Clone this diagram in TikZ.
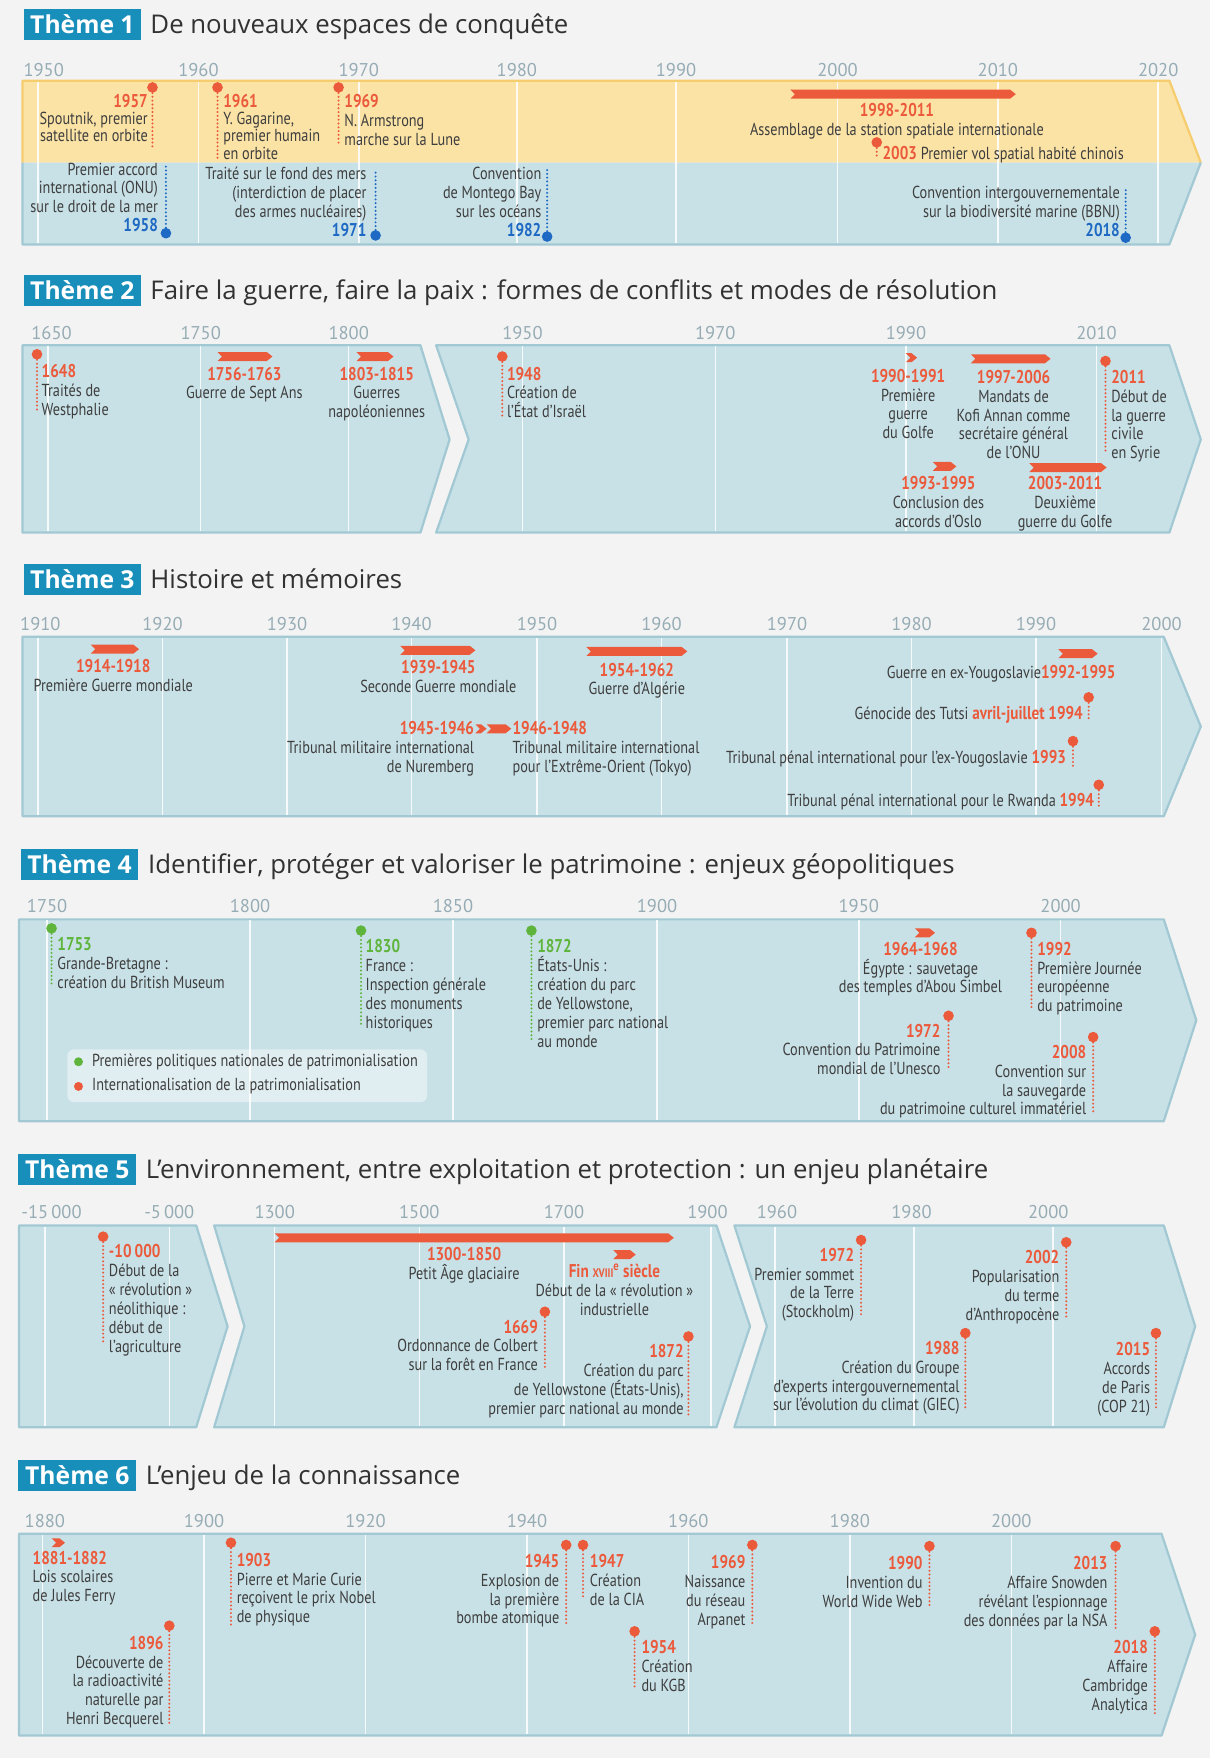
\documentclass[tikz,border=0pt]{standalone}
\usepackage{fontspec}
\setmainfont{PT Sans}[FakeStretch=0.82]
\newfontfamily\titlefont{Open Sans}
\newfontfamily\yearfont{PT Sans}

\definecolor{pagebg}{RGB}{243,243,243}
\definecolor{bandc}{RGB}{200,225,231}
\definecolor{bandedge}{RGB}{162,201,211}
\definecolor{yelc}{RGB}{251,227,166}
\definecolor{yeledge}{RGB}{246,205,110}
\definecolor{badgec}{RGB}{24,142,186}
\definecolor{titlec}{RGB}{50,50,50}
\definecolor{txtc}{RGB}{62,62,62}
\definecolor{redc}{RGB}{236,90,60}
\definecolor{bluec}{RGB}{30,105,195}
\definecolor{greenc}{RGB}{95,180,60}
\definecolor{yrc}{RGB}{150,172,180}

\newcommand{\evfont}{\fontsize{15.5}{16.8}\selectfont}
\newcommand{\dr}[1]{{\fontsize{16.5}{16.8}\selectfont\bfseries\color{redc}#1}}
\newcommand{\db}[1]{{\fontsize{16.5}{16.8}\selectfont\bfseries\color{bluec}#1}}
\newcommand{\dg}[1]{{\fontsize{16.5}{16.8}\selectfont\bfseries\color{greenc}#1}}

\begin{document}
\begin{tikzpicture}
    [x=1pt,y=-1pt,
     every node/.style={inner sep=0pt, font=\evfont, text=txtc},
     lt/.style={anchor=north west, align=left},
     rt/.style={anchor=north east, align=right},
     ct/.style={anchor=north, align=center},
     tight/.style={font=\fontsize{15.5}{15.3}\selectfont},
     yr/.style={anchor=base, font=\yearfont\fontsize{16.5}{16.5}\selectfont, text=yrc},
     badge/.style={fill=badgec, text=white, minimum width=105pt, minimum height=28pt,
       font=\titlefont\bfseries\fontsize{22}{22}\selectfont},
     ttl/.style={anchor=base west, text=titlec, font=\titlefont\fontsize{23}{23}\selectfont},
     band/.style={fill=bandc, draw=bandedge, line width=2pt, line join=round},
     gline/.style={white, line width=1.4pt, opacity=0.85},
     rangebar/.style={fill=redc},
     dotr/.style={circle, fill=redc, minimum size=9.5pt},
     dotb/.style={circle, fill=bluec, minimum size=9.5pt},
     dotg/.style={circle, fill=greenc, minimum size=9.5pt},
     pinr/.style={draw=redc, line width=2pt, line cap=round, dash pattern=on 0pt off 3.4pt},
     pinb/.style={draw=bluec, line width=2pt, line cap=round, dash pattern=on 0pt off 3.4pt},
     ping/.style={draw=greenc, line width=2pt, line cap=round, dash pattern=on 0pt off 3.4pt}]

    \useasboundingbox (0,0) rectangle (1079,1568);
    \fill[pagebg] (0,0) rectangle (1079,1568);

    % headings
    \node[badge] (b1) at (73.5,22) {Thème 1};
    \node[ttl] (h1) at (134,30) {De nouveaux espaces de conquête};
    \node[badge] (b2) at (73.5,259) {Thème 2};
    \node[ttl] (h2) at (134,267) {Faire la guerre, faire la paix : formes de conflits et modes de résolution};
    \node[badge] (b3) at (73.5,517) {Thème 3};
    \node[ttl] (h3) at (134,525) {Histoire et mémoires};
    \node[badge] (b4) at (71,771) {Thème 4};
    \node[ttl] (h4) at (132,779) {Identifier, protéger et valoriser le patrimoine : enjeux géopolitiques};
    \node[badge] (b5) at (69,1043) {Thème 5};
    \node[ttl] (h5) at (130,1051) {L’environnement, entre exploitation et protection : un enjeu planétaire};
    \node[badge] (b6) at (69,1316) {Thème 6};
    \node[ttl] (h6) at (130,1324) {L’enjeu de la connaissance};

    % bands
    \fill[yelc] (20,72) -- (1043,72) -- (1071,145) -- (20,145) -- cycle;
    \fill[bandc] (20,145) -- (1071,145) -- (1043,218) -- (20,218) -- cycle;
    \draw[yeledge, line width=2pt, line join=round] (20,145) -- (20,72) -- (1043,72) -- (1071,145);
    \draw[bandedge, line width=2pt, line join=round] (1071,145) -- (1043,218) -- (20,218) -- (20,145);
    \path[band] (20,308) -- (375,308) -- (401,392) -- (375,475) -- (20,475) -- cycle;
    \path[band] (389,308) -- (1043,308) -- (1071,392) -- (1043,475) -- (389,475) -- (418,392) -- cycle;
    \path[band] (20,568) -- (1038,568) -- (1071,648) -- (1038,728) -- (20,728) -- cycle;
    \path[band] (17,820) -- (1038,820) -- (1067,910) -- (1038,1000) -- (17,1000) -- cycle;
    \path[band] (17,1093) -- (175,1093) -- (203,1183) -- (175,1273) -- (17,1273) -- cycle;
    \path[band] (191,1093) -- (639,1093) -- (669,1183) -- (639,1273) -- (191,1273) -- (218,1183) -- cycle;
    \path[band] (655,1093) -- (1038,1093) -- (1066,1183) -- (1038,1273) -- (655,1273) -- (684,1183) -- cycle;
    \path[band] (17,1368) -- (1036,1368) -- (1066,1458) -- (1036,1548) -- (17,1548) -- cycle;

    % grid lines
    \foreach \x in {34,177,320,461,603,747,890,1033} \draw[gline] (\x,73) -- (\x,217);
    \foreach \x in {43,179,311,466,638,808,978} \draw[gline] (\x,309) -- (\x,474);
    \foreach \x in {34,145,256,367,479,590,702,813,924,1036} \draw[gline] (\x,569) -- (\x,727);
    \foreach \x in {42,223,404,586,766,946} \draw[gline] (\x,821) -- (\x,999);
    \foreach \x in {40,151,245,374,503,634,691,815,939} \draw[gline] (\x,1094) -- (\x,1272);
    \foreach \x in {38,182,326,470,614,758,902} \draw[gline] (\x,1369) -- (\x,1547);

    % year labels
    \foreach \x/\t [count=\i] in {39/1950,177/1960,320/1970,461/1980,603/1990,747/2000,890/2010,1033/2020}
      \node[yr] (yA\i) at (\x,68) {\t};
    \foreach \x/\t [count=\i] in {46/1650,179/1750,311/1800,466/1950,638/1970,808/1990,978/2010}
      \node[yr] (yB\i) at (\x,303) {\t};
    \foreach \x/\t [count=\i] in {36/1910,145/1920,256/1930,367/1940,479/1950,590/1960,702/1970,813/1980,924/1990,1036/2000}
      \node[yr] (yC\i) at (\x,562) {\t};
    \foreach \x/\t [count=\i] in {42/1750,223/1800,404/1850,586/1900,766/1950,946/2000}
      \node[yr] (yD\i) at (\x,814) {\t};
    \foreach \x/\t [count=\i] in {46/{-15\,000},151/{-5\,000},245/1300,374/1500,503/1700,631/1900,693/1960,813/1980,935/2000}
      \node[yr] (yE\i) at (\x,1087) {\t};
    \foreach \x/\t [count=\i] in {40/1880,182/1900,326/1920,470/1940,614/1960,758/1980,902/2000}
      \node[yr] (yF\i) at (\x,1362) {\t};

    % range bars
    \foreach \a/\b/\y in {705/906/84, 194/243/318, 318/351/318, 808/818/319, 866/937/320,
      832/853/416, 918/987/417, 81/124/579, 357/424/580, 523/613/581, 944/979/583,
      424/434/650, 434/456/650, 816/834/832, 245/601/1104, 547/567/1119, 46/58/1376}
      \fill[rangebar] (\a,\y-4) -- (\b-5,\y-4) -- (\b,\y) -- (\b-5,\y+4) -- (\a,\y+4) -- (\a+4,\y) -- cycle;

    % legend box
    \fill[white, opacity=0.45, rounded corners=6pt] (60,936) rectangle (381,983);

    % Theme 1
    \node[dotr] (pA1957) at (136,78) {};
    \node[dotr] (pA1961) at (194,78) {};
    \node[dotr] (pA1969) at (302,78) {};
    \node[dotr] (pA2003) at (782,127) {};
    \node[dotb] (pA1958) at (148,208) {};
    \node[dotb] (pA1971) at (335,210) {};
    \node[dotb] (pA1982) at (488,211) {};
    \node[dotb] (pA2018) at (1004,212) {};
    \coordinate (qA1957) at (136,131);
    \coordinate (qA1961) at (194,142);
    \coordinate (qA1969) at (302,128);
    \coordinate (qA2003) at (782,141);
    \coordinate (qA1958) at (148,148);
    \coordinate (qA1971) at (335,151);
    \coordinate (qA1982) at (488,151);
    \coordinate (qA2018) at (1004,168);
    \node[rt, tight] (tA1957) at (132,84) {\dr{1957}\\Spoutnik, premier\\satellite en orbite};
    \node[lt, tight] (tA1961) at (199,84) {\dr{1961}\\Y. Gagarine,\\premier humain\\en orbite};
    \node[lt] (tA1969) at (307,84) {\dr{1969}\\N. Armstrong\\marche sur la Lune};
    \node[ct] (tA1998) at (800,92) {\dr{1998-2011}\\Assemblage de la station spatiale internationale};
    \node[lt] (tA2003) at (787,130) {\dr{2003} Premier vol spatial habité chinois};
    \node[rt] (tA1958) at (141,145) {Premier accord\\international (ONU)\\sur le droit de la mer\\\db{1958}};
    \node[rt] (tA1971) at (327,149) {Traité sur le fond des mers\\(interdiction de placer\\des armes nucléaires)\\\db{1971}};
    \node[rt] (tA1982) at (483,149) {Convention\\de Montego Bay\\sur les océans\\\db{1982}};
    \node[rt] (tA2018) at (999,166) {Convention intergouvernementale\\sur la biodiversité marine (BBNJ)\\\db{2018}};

    % Theme 2
    \node[dotr] (pB1648) at (33,316) {};
    \node[dotr] (pB1948) at (448,318) {};
    \node[dotr] (pB2011) at (986,322) {};
    \coordinate (qB1648) at (33,368);
    \coordinate (qB1948) at (448,372);
    \coordinate (qB2011) at (986,405);
    \node[lt] (tB1648) at (37,325) {\dr{1648}\\Traités de\\Westphalie};
    \node[ct] (tB1756) at (218,327) {\dr{1756-1763}\\Guerre de Sept Ans};
    \node[ct] (tB1803) at (336,327) {\dr{1803-1815}\\Guerres\\napoléoniennes};
    \node[lt] (tB1948) at (452,327) {\dr{1948}\\Création de\\l’État d’Israël};
    \node[ct] (tB1990) at (810,329) {\dr{1990-1991}\\Première\\guerre\\du Golfe};
    \node[ct] (tB1997) at (904,330) {\dr{1997-2006}\\Mandats de\\Kofi Annan comme\\secrétaire général\\de l’ONU};
    \node[lt] (tB2011) at (991,330) {\dr{2011}\\Début de\\la guerre\\civile\\en Syrie};
    \node[ct] (tB1993) at (837,425) {\dr{1993-1995}\\Conclusion des\\accords d’Oslo};
    \node[ct] (tB2003) at (950,425) {\dr{2003-2011}\\Deuxième\\guerre du Golfe};

    % Theme 3
    \node[dotr] (pC1994a) at (971,622) {};
    \node[dotr] (pC1993) at (957,661) {};
    \node[dotr] (pC1994b) at (980,700) {};
    \coordinate (qC1994a) at (971,642);
    \coordinate (qC1993) at (957,683);
    \coordinate (qC1994b) at (980,720);
    \node[ct] (tC1914) at (101,588) {\dr{1914-1918}\\Première Guerre mondiale};
    \node[ct] (tC1939) at (391,589) {\dr{1939-1945}\\Seconde Guerre mondiale};
    \node[ct] (tC1954) at (568,591) {\dr{1954-1962}\\Guerre d’Algérie};
    \node[rt] (tC1945) at (423,643) {\dr{1945-1946}\\Tribunal militaire international\\de Nuremberg};
    \node[lt] (tC1946) at (457,643) {\dr{1946-1948}\\Tribunal militaire international\\pour l’Extrême-Orient (Tokyo)};
    \node[rt] (tC1992) at (995,593) {Guerre en ex-Yougoslavie\dr{1992-1995}};
    \node[rt] (tC1994a) at (966,630) {Génocide des Tutsi\ \dr{avril-juillet 1994}};
    \node[rt] (tC1993) at (951,669) {Tribunal pénal international pour l’ex-Yougoslavie \dr{1993}};
    \node[rt] (tC1994b) at (976,707) {Tribunal pénal international pour le Rwanda \dr{1994}};

    % Theme 4
    \node[dotg] (pD1753) at (46,828) {};
    \node[dotg] (pD1830) at (322,830) {};
    \node[dotg] (pD1872) at (474,830) {};
    \node[dotr] (pD1992) at (920,832) {};
    \node[dotr] (pD1972) at (846,906) {};
    \node[dotr] (pD2008) at (975,925) {};
    \coordinate (qD1753) at (46,880);
    \coordinate (qD1830) at (322,915);
    \coordinate (qD1872) at (474,930);
    \coordinate (qD1992) at (920,900);
    \coordinate (qD1972) at (846,955);
    \coordinate (qD2008) at (975,993);
    \node[lt] (tD1753) at (51,836) {\dg{1753}\\Grande-Bretagne :\\création du British Museum};
    \node[lt] (tD1830) at (326,838) {\dg{1830}\\France :\\Inspection générale\\des monuments\\historiques};
    \node[lt] (tD1872) at (479,838) {\dg{1872}\\États-Unis :\\création du parc\\de Yellowstone,\\premier parc national\\au monde};
    \node[ct] (tD1964) at (821,840) {\dr{1964-1968}\\Égypte : sauvetage\\des temples d’Abou Simbel};
    \node[lt] (tD1992) at (925,840) {\dr{1992}\\Première Journée\\européenne\\du patrimoine};
    \node[rt] (tD1972) at (839,913) {\dr{1972}\\Convention du Patrimoine\\mondial de l’Unesco};
    \node[rt] (tD2008) at (969,932) {\dr{2008}\\Convention sur\\la sauvegarde\\du patrimoine culturel immatériel};
    \node[dotg, minimum size=8pt] (lgG) at (70,947) {};
    \node[dotr, minimum size=8pt] (lgR) at (70,969) {};
    \node[anchor=west] (lgGt) at (82,947) {Premières politiques nationales de patrimonialisation};
    \node[anchor=west] (lgRt) at (82,969) {Internationalisation de la patrimonialisation};

    % Theme 5
    \node[dotr] (pE10000) at (92,1103) {};
    \node[dotr] (pE1669) at (486,1170) {};
    \node[dotr] (pE1872) at (614,1192) {};
    \node[dotr] (pE1972) at (768,1106) {};
    \node[dotr] (pE2002) at (951,1108) {};
    \node[dotr] (pE1988) at (861,1189) {};
    \node[dotr] (pE2015) at (1031,1189) {};
    \coordinate (qE10000) at (92,1198);
    \coordinate (qE1669) at (486,1222);
    \coordinate (qE1872) at (614,1262);
    \coordinate (qE1972) at (768,1175);
    \coordinate (qE2002) at (951,1175);
    \coordinate (qE1988) at (861,1258);
    \coordinate (qE2015) at (1031,1258);
    \node[lt] (tE10000) at (97,1110) {\dr{-10\,000}\\Début de la\\« révolution »\\néolithique :\\début de\\l’agriculture};
    \node[ct] (tE1300) at (414,1112) {\dr{1300-1850}\\Petit Âge glaciaire};
    \node[ct] (tE1800) at (548,1127) {\dr{Fin {\fontsize{11}{11}\selectfont XVIII}\textsuperscript{e} siècle}\\Début de la « révolution »\\industrielle};
    \node[rt] (tE1669) at (480,1177) {\dr{1669}\\Ordonnance de Colbert\\sur la forêt en France};
    \node[rt] (tE1872) at (610,1199) {\dr{1872}\\Création du parc\\de Yellowstone (États-Unis),\\premier parc national au monde};
    \node[rt] (tE1972) at (762,1113) {\dr{1972}\\Premier sommet\\de la Terre\\(Stockholm)};
    \node[rt] (tE2002) at (945,1115) {\dr{2002}\\Popularisation\\du terme\\d’Anthropocène};
    \node[rt] (tE1988) at (856,1196) {\dr{1988}\\Création du Groupe\\d’experts intergouvernemental\\sur l’évolution du climat (GIEC)};
    \node[rt] (tE2015) at (1026,1197) {\dr{2015}\\Accords\\de Paris\\(COP 21)};

    % Theme 6
    \node[dotr] (pF1896) at (151,1450) {};
    \node[dotr] (pF1903) at (206,1376) {};
    \node[dotr] (pF1945) at (505,1378) {};
    \node[dotr] (pF1947) at (520,1378) {};
    \node[dotr] (pF1954) at (566,1455) {};
    \node[dotr] (pF1969) at (671,1378) {};
    \node[dotr] (pF1990) at (829,1379) {};
    \node[dotr] (pF2013) at (995,1379) {};
    \node[dotr] (pF2018) at (1030,1455) {};
    \coordinate (qF1896) at (151,1538);
    \coordinate (qF1903) at (206,1450);
    \coordinate (qF1945) at (505,1450);
    \coordinate (qF1947) at (520,1425);
    \coordinate (qF1954) at (566,1505);
    \coordinate (qF1969) at (671,1450);
    \coordinate (qF1990) at (829,1433);
    \coordinate (qF2013) at (995,1455);
    \coordinate (qF2018) at (1030,1530);
    \node[lt] (tF1881) at (29,1383) {\dr{1881-1882}\\Lois scolaires\\de Jules Ferry};
    \node[rt] (tF1896) at (146,1459) {\dr{1896}\\Découverte de\\la radioactivité\\naturelle par\\Henri Becquerel};
    \node[lt] (tF1903) at (211,1385) {\dr{1903}\\Pierre et Marie Curie\\reçoivent le prix Nobel\\de physique};
    \node[rt] (tF1945) at (499,1386) {\dr{1945}\\Explosion de\\la première\\bombe atomique};
    \node[lt] (tF1947) at (526,1386) {\dr{1947}\\Création\\de la CIA};
    \node[lt] (tF1954) at (572,1463) {\dr{1954}\\Création\\du KGB};
    \node[rt] (tF1969) at (665,1387) {\dr{1969}\\Naissance\\du réseau\\Arpanet};
    \node[rt] (tF1990) at (823,1388) {\dr{1990}\\Invention du\\World Wide Web};
    \node[rt] (tF2013) at (988,1388) {\dr{2013}\\Affaire Snowden\\révélant l’espionnage\\des données par la NSA};
    \node[rt] (tF2018) at (1024,1463) {\dr{2018}\\Affaire\\Cambridge\\Analytica};

    % dotted pins
    \foreach \from/\to in {pA1957/qA1957, pA1961/qA1961, pA1969/qA1969, pA2003/qA2003,
      pB1648/qB1648, pB1948/qB1948, pB2011/qB2011,
      pC1994a/qC1994a, pC1993/qC1993, pC1994b/qC1994b,
      pD1992/qD1992, pD1972/qD1972, pD2008/qD2008,
      pE10000/qE10000, pE1669/qE1669, pE1872/qE1872, pE1972/qE1972, pE2002/qE2002,
      pE1988/qE1988, pE2015/qE2015,
      pF1896/qF1896, pF1903/qF1903, pF1945/qF1945, pF1947/qF1947, pF1954/qF1954,
      pF1969/qF1969, pF1990/qF1990, pF2013/qF2013, pF2018/qF2018}
    \draw[pinr] (\from) -- (\to);
    \foreach \from/\to in {pA1958/qA1958, pA1971/qA1971, pA1982/qA1982, pA2018/qA2018}
    \draw[pinb] (\from) -- (\to);
    \foreach \from/\to in {pD1753/qD1753, pD1830/qD1830, pD1872/qD1872}
    \draw[ping] (\from) -- (\to);
  \end{tikzpicture}
\end{document}
